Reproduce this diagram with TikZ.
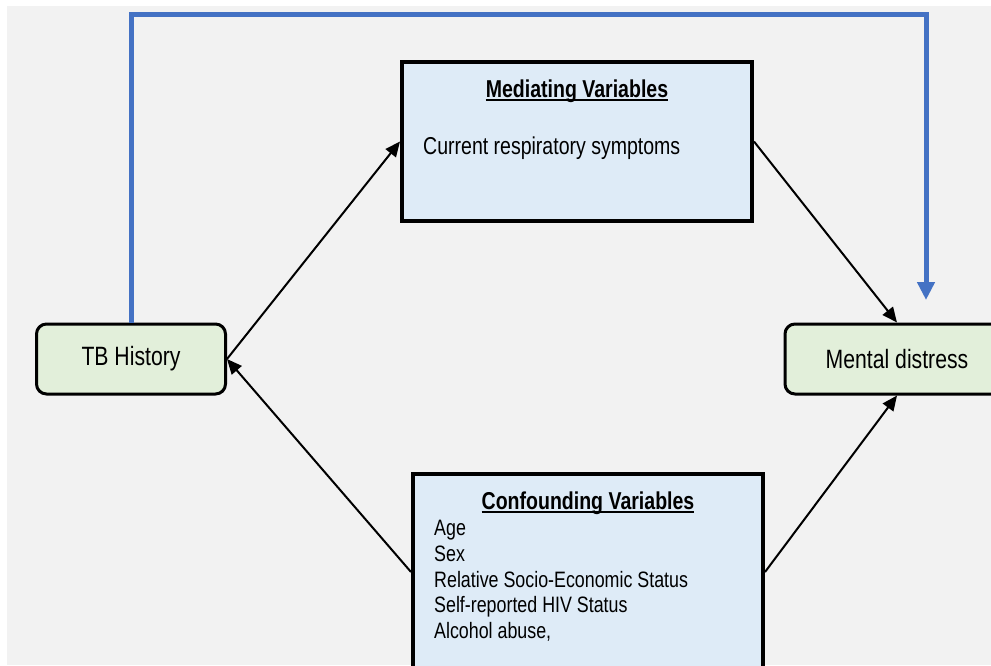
\documentclass[tikz,border=0pt]{standalone}
\usepackage{fontspec}
\setmainfont[FakeStretch=0.8]{Liberation Sans}
\usepackage{tikz}
\usetikzlibrary{arrows}
\usetikzlibrary{arrows.meta}
\usetikzlibrary{positioning}
\tikzset{endbox/.style = {draw, line width=3pt, rounded corners=10pt, fill=lgreen,
                          minimum width=189pt, minimum height=70pt,
                          font=\fontsize{26.5}{30}\selectfont},
         varbox/.style = {draw, line width=4pt, fill=lblue, minimum width=350pt},
         boxtitle/.style = {inner sep=0pt, anchor=base,
                            font=\fontsize{24.4}{28}\selectfont\bfseries},
         boxtext/.style = {inner sep=0pt, anchor=base west,
                           font=\fontsize{24.4}{28}\selectfont},
         listtext/.style = {inner sep=0pt, anchor=base west,
                            font=\fontsize{22.3}{25}\selectfont},
         uline/.style = {line width=1.5pt},
         effect/.style = {line width=2pt, -{Triangle[length=15pt, width=13pt]}},
         direct/.style = {line width=5pt, mblue,
                          -{Triangle[length=18pt, width=17pt]}}}
\definecolor{mblue}{RGB}{68, 114, 196}
\definecolor{lgreen}{RGB}{226, 239, 218}
\definecolor{lblue}{RGB}{222, 235, 247}
\definecolor{bggray}{RGB}{242, 242, 242}

\begin{document}
\begin{tikzpicture}[x=1pt, y=-1pt]
    \useasboundingbox (0, 0) rectangle (991, 665);
    \clip (0, 0) rectangle (991, 665);
    \fill [bggray] (7, 6) rectangle (991, 665);

    \node [endbox] (tb) at (131, 359) {TB History};
    \node [endbox, minimum width=224pt] (md) at (897, 359) {Mental distress};

    % mediating box
    \node [varbox, minimum height=159pt] (med) at (577, 141.5) {};
    \node [boxtitle] (medtitle) at (577, 97) {Mediating Variables};
    \draw [uline] ([yshift=-3pt]medtitle.base west) -- ([yshift=-3pt]medtitle.base east);
    \node [boxtext] (medtext) at (423, 154) {Current respiratory symptoms};

    % confounding box
    \node [varbox, minimum height=196pt] (conf) at (588, 572) {};
    \node [boxtitle] (conftitle) at (588, 509) {Confounding Variables};
    \draw [uline] ([yshift=-3pt]conftitle.base west) -- ([yshift=-3pt]conftitle.base east);
    \foreach \txt [count=\i] in {Age, Sex, Relative Socio-Economic Status,
                                 Self-reported HIV Status, {Alcohol abuse,}}
        \node [listtext] (conf\i) at (434, 510 + 25.7 * \i) {\txt};

    \draw [effect] (tb.east) -- (med.west);
    \draw [effect] (med.east) -- (md.north);
    \draw [effect] (conf.west) -- (tb.east);
    \draw [effect] (conf.east) -- (md.south);

    \coordinate (bluetip) at (926, 300);
    \coordinate (bluetop) at (926, 14);
    \draw [direct] (tb.north) |- (bluetop) -- (bluetip);
\end{tikzpicture}
\end{document}
